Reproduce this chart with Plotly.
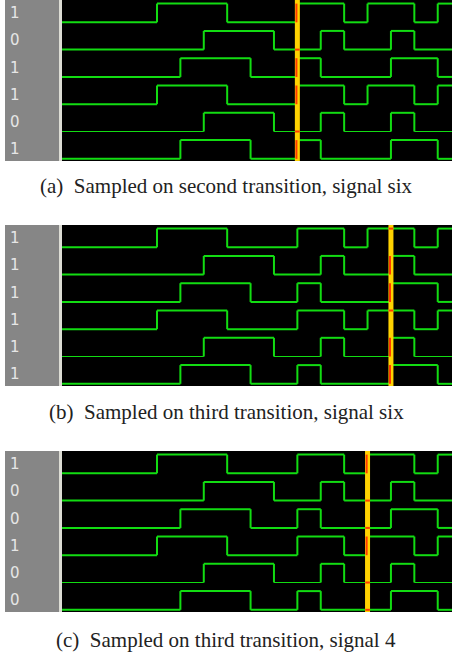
import plotly.graph_objects as go

# ---------------- data ----------------
# transition times (clock units) of each of the six signals; every signal starts low
signal_edges = [
    [4, 7, 10, 12, 13, 15, 16],
    [6, 9, 11, 12, 14, 15],
    [5, 8, 10, 11, 14, 16],
    [4, 7, 10, 12, 13, 15, 16],
    [6, 9, 11, 12, 14, 15],
    [5, 8, 10, 11, 14, 16],
]
panel_labels = [
    ["1", "0", "1", "1", "0", "1"],
    ["1", "1", "1", "1", "1", "1"],
    ["1", "0", "0", "1", "0", "0"],
]
cursor_times = [10, 14, 13]
captions = [
    "(a)  Sampled on second transition, signal six",
    "(b)  Sampled on third transition, signal six",
    "(c)  Sampled on third transition, signal 4",
]
t_start, t_end = -0.06, 16.61

# ---------------- layout constants ----------------
W, H = 452, 654
AMP = 0.685
panel_px = [(0, 161), (225, 386), (451, 612)]
caption_px = [186, 412, 640]
x_left_px = 62
GREEN = "#12dc12"
THIN_LOW_ROWS = [4]

fig = go.Figure()


def level_at(edges, t):
    return sum(1 for e in edges if e < t) % 2


def step_segments(edges, k):
    """return (thick_x, thick_y, low_x, low_y) polylines split by None"""
    times = [t_start] + list(edges) + [t_end]
    hx, hy, lx, ly = [], [], [], []
    lvl = 0
    for i in range(len(times) - 1):
        a, b = times[i], times[i + 1]
        y = -k + AMP * lvl
        if lvl == 0:
            lx += [a, b, None]
            ly += [y, y, None]
        else:
            hx += [a, b, None]
            hy += [y, y, None]
        if i < len(edges):
            hx += [b, b, None]
            hy += [-k, -k + AMP, None]
        lvl = 1 - lvl
    return hx, hy, lx, ly


shapes = []
annotations = []
for p in range(3):
    xa = "x" if p == 0 else f"x{p + 1}"
    ya = "y" if p == 0 else f"y{p + 1}"
    top, bot = panel_px[p]
    # gray label column
    shapes.append(dict(type="rect", xref="paper", yref="paper",
                       x0=5 / W, x1=59 / W, y0=1 - bot / H, y1=1 - top / H,
                       fillcolor="#868686", line_width=0, layer="below"))
    shapes.append(dict(type="rect", xref="paper", yref="paper",
                       x0=59 / W, x1=62 / W, y0=1 - bot / H, y1=1 - top / H,
                       fillcolor="#dcdcd4", line_width=0, layer="below"))
    for k, edges in enumerate(signal_edges):
        hx, hy, lx, ly = step_segments(edges, k)
        low_w = 1.2 if k in THIN_LOW_ROWS else 2
        fig.add_trace(go.Scatter(x=lx, y=ly, mode="lines", xaxis=xa, yaxis=ya,
                                 line=dict(color=GREEN, width=low_w), hoverinfo="skip",
                                 showlegend=False))
        fig.add_trace(go.Scatter(x=hx, y=hy, mode="lines", xaxis=xa, yaxis=ya,
                                 line=dict(color=GREEN, width=2), hoverinfo="skip",
                                 showlegend=False))
        annotations.append(dict(x=8 / W, xref="paper", y=-k + AMP / 2, yref=ya,
                                text=panel_labels[p][k], showarrow=False,
                                xanchor="left", yanchor="middle",
                                font=dict(family="DejaVu Sans", size=15, color="#e6e6e6")))
    tc = cursor_times[p]
    fig.add_trace(go.Scatter(x=[tc, tc], y=[-5.2, 1.0], mode="lines", xaxis=xa, yaxis=ya,
                             line=dict(color="#ffd200", width=5), hoverinfo="skip",
                             showlegend=False))
    rx, ry = [], []
    for k, edges in enumerate(signal_edges):
        if tc in edges:
            rx += [tc - 0.04, tc - 0.04, None]
            ry += [-k, -k + AMP, None]
        else:
            lvl = level_at(edges, tc)
            rx += [tc - 0.1, tc + 0.1, None]
            ry += [-k + AMP * lvl, -k + AMP * lvl, None]
    fig.add_trace(go.Scatter(x=rx, y=ry, mode="lines", xaxis=xa, yaxis=ya,
                             line=dict(color="#ff3a00", width=2), hoverinfo="skip",
                             showlegend=False))
    annotations.append(dict(x=0.5, xref="paper", y=1 - caption_px[p] / H, yref="paper",
                            text=captions[p], showarrow=False, xanchor="center",
                            yanchor="middle",
                            font=dict(family="Liberation Serif", size=21, color="#222222")))

layout = dict(width=W, height=H, margin=dict(l=0, r=0, t=0, b=0),
              paper_bgcolor="white", plot_bgcolor="black",
              shapes=shapes, annotations=annotations, showlegend=False)
for p in range(3):
    top, bot = panel_px[p]
    sx = "xaxis" if p == 0 else f"xaxis{p + 1}"
    sy = "yaxis" if p == 0 else f"yaxis{p + 1}"
    ya = "y" if p == 0 else f"y{p + 1}"
    xa = "x" if p == 0 else f"x{p + 1}"
    layout[sx] = dict(domain=[x_left_px / W, 1], range=[t_start, t_end], visible=False,
                      anchor=ya, fixedrange=True)
    layout[sy] = dict(domain=[1 - bot / H, 1 - top / H], range=[-5.08, 0.817],
                      visible=False, anchor=xa, fixedrange=True)
fig.update_layout(**layout)
fig.write_html("out.html", config={"displayModeBar": False},
               post_script="document.body.style.margin='0';document.body.style.overflow='hidden';")
